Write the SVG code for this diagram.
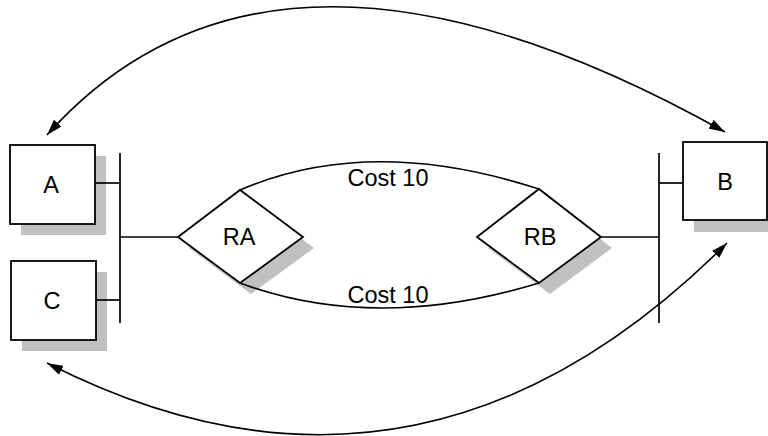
<svg xmlns="http://www.w3.org/2000/svg" width="768" height="436" viewBox="0 0 768 436">
<style>
.shadow{fill:#c0c0c0;stroke:none}
.node{fill:#fff;stroke:#000;stroke-width:1.8}
.line{fill:none;stroke:#000;stroke-width:1.7}
.arc{fill:none;stroke:#000;stroke-width:1.6;marker-start:url(#arr);marker-end:url(#arr)}
.lbl{font-family:"Liberation Sans",Arial,sans-serif;font-size:23.5px;fill:#000;text-anchor:middle}
</style>
<defs>
<marker id="arr" viewBox="0 0 16 10" refX="16" refY="5" markerWidth="16" markerHeight="10" markerUnits="userSpaceOnUse" orient="auto-start-reverse">
<path d="M0,0 L16,5 L0,10 z" fill="#000"/>
</marker>
</defs>
<rect width="768" height="436" fill="#fff"/>
<g id="A">
<rect class="shadow" x="21" y="156" width="85" height="79"/>
<rect class="node" x="10" y="145" width="85" height="79"/>
<text class="lbl" x="51" y="193">A</text>
</g>
<g id="C">
<rect class="shadow" x="22" y="272" width="85" height="79"/>
<rect class="node" x="11" y="261" width="85" height="79"/>
<text class="lbl" x="52" y="309">C</text>
</g>
<g id="B">
<rect class="shadow" x="694" y="153" width="84" height="79"/>
<rect class="node" x="683" y="142" width="84" height="78"/>
<text class="lbl" x="725" y="190">B</text>
</g>
<g id="RA">
<polygon class="shadow" points="189,248 251,201 314,248 251,294"/>
<polygon class="node" points="178,237 240,190 303,237 240,283"/>
<text class="lbl" x="239" y="245">RA</text>
</g>
<g id="RB">
<polygon class="shadow" points="488,248 550,200 612,248 550,294"/>
<polygon class="node" points="477,237 539,189 601,237 539,283"/>
<text class="lbl" x="540" y="245">RB</text>
</g>
<g id="connectors">
<line class="line" x1="120" y1="153" x2="120" y2="323"/>
<line class="line" x1="95" y1="183" x2="120" y2="183"/>
<line class="line" x1="96" y1="300" x2="120" y2="300"/>
<line class="line" x1="120" y1="237" x2="178" y2="237"/>
<line class="line" x1="659" y1="153" x2="659" y2="323"/>
<line class="line" x1="659" y1="183" x2="683" y2="183"/>
<line class="line" x1="601" y1="237" x2="659" y2="237"/>
<path class="line" d="M240,190 Q370,134 539,189"/>
<path class="line" d="M240,283 Q375,333 539,283"/>
<text class="lbl" x="388" y="186">Cost 10</text>
<text class="lbl" x="388" y="303">Cost 10</text>
<path class="arc" d="M47,135 Q275,-120 725,132"/>
<path class="arc" d="M727,243 Q418,552 47,363"/>
</g>
</svg>
